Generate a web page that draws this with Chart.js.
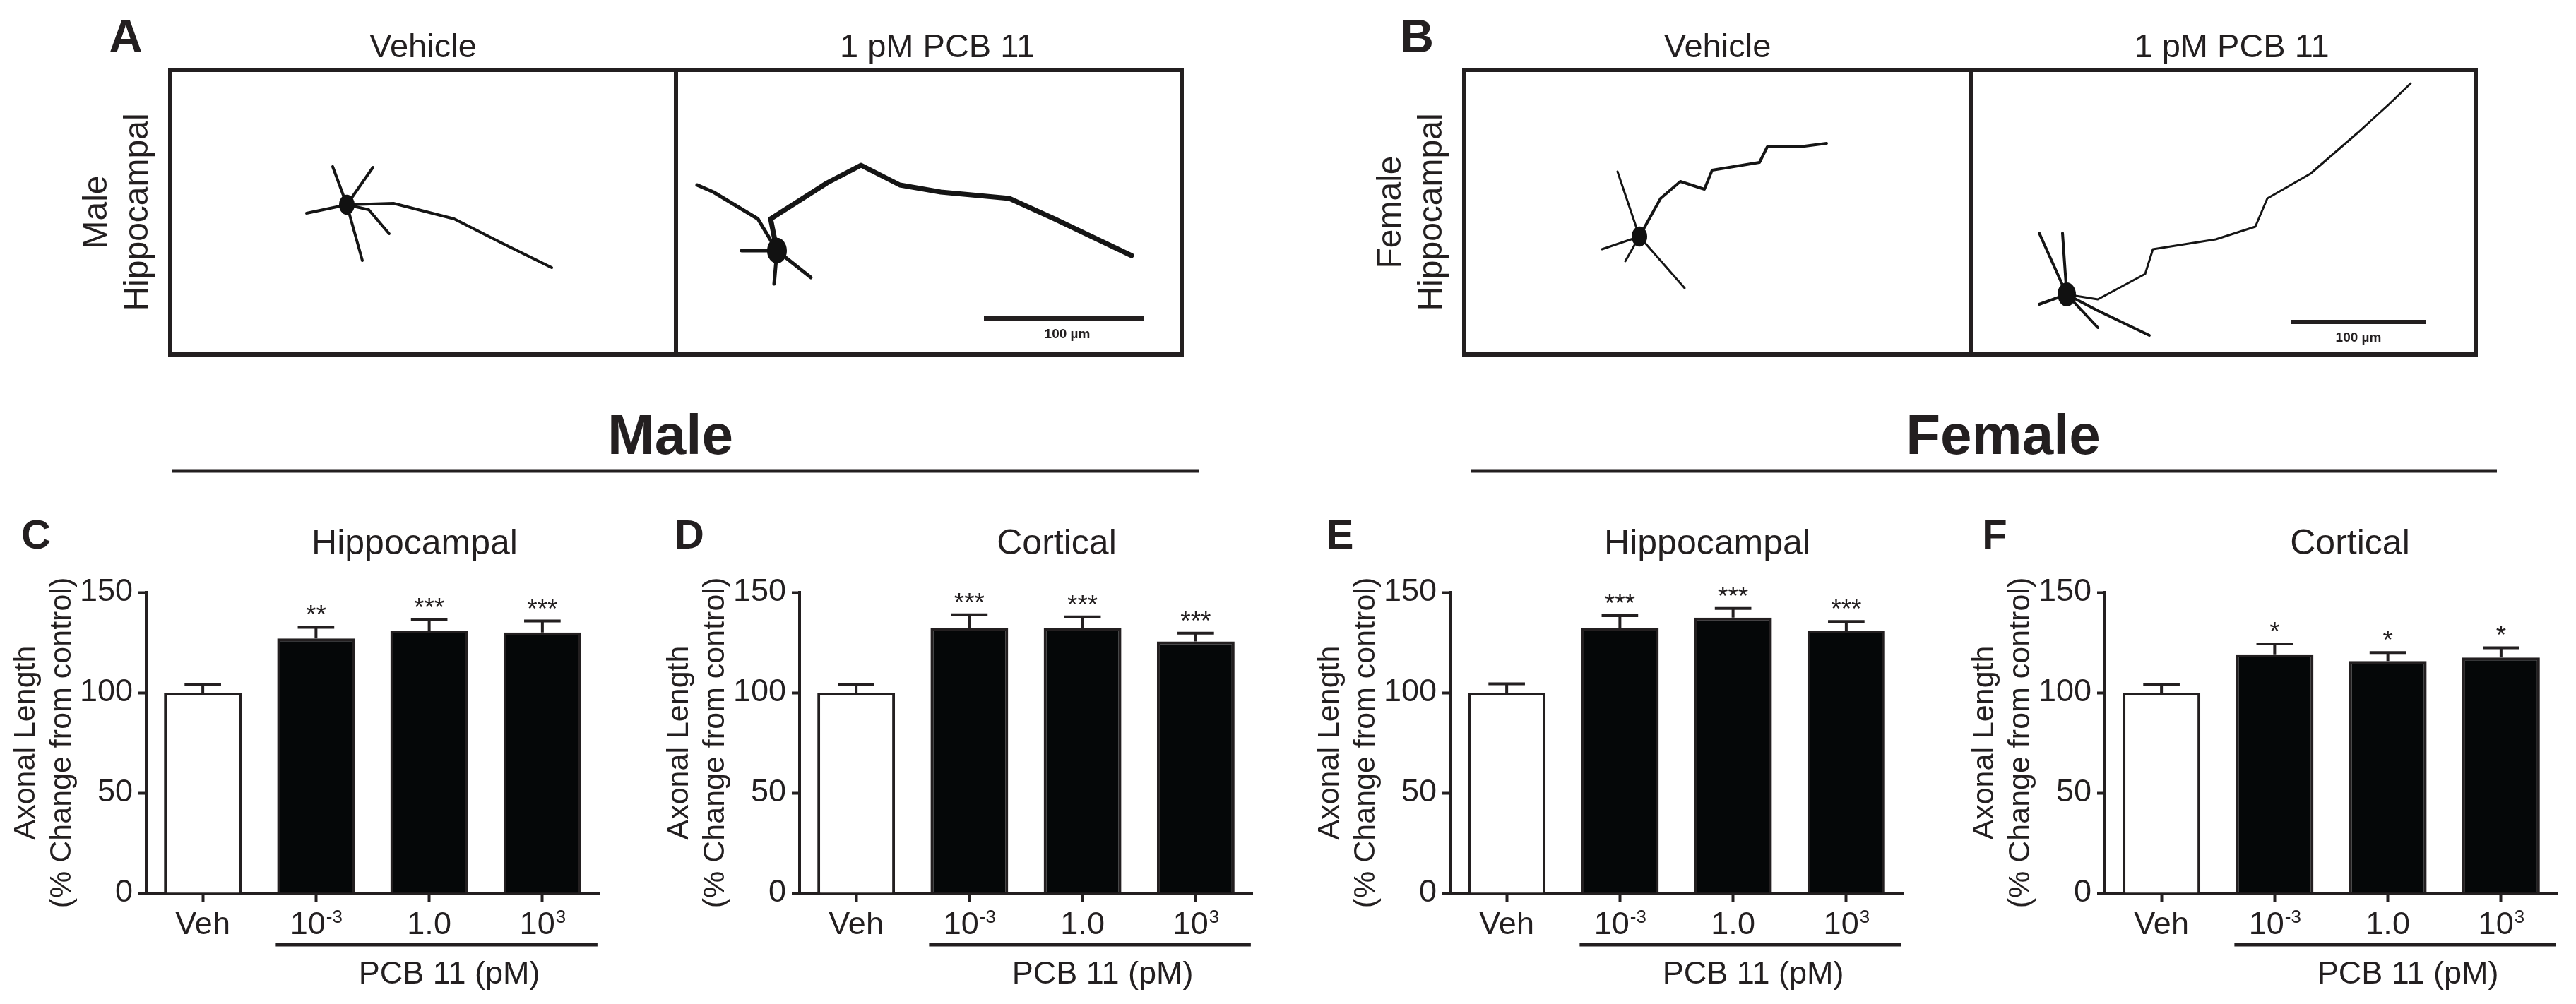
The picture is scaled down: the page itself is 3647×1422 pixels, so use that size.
<!DOCTYPE html>
<html>
<head>
<meta charset="utf-8">
<title>PCB 11 axonal length</title>
<script src="https://cdn.jsdelivr.net/npm/chart.js@4.4.0/dist/chart.umd.min.js"></script>
<style>
    html, body { margin: 0; padding: 0; background: #fff; }
    #stage { position: relative; width: 3647px; height: 1422px; overflow: hidden; }
    #stage canvas { position: absolute; }
</style>
</head>
<body>
<div id="stage">
    <canvas id="figure" width="3647" height="1422" style="left:0;top:0"></canvas>
    <canvas id="chartC"></canvas>
    <canvas id="chartD"></canvas>
    <canvas id="chartE"></canvas>
    <canvas id="chartF"></canvas>
</div>
<script>
// ===== Data =====
const CATEGORIES = ['Veh', '10^-3', '1.0', '10^3'];
const Y_TICKS = [0, 50, 100, 150];

const maleHippoMean = [100, 127, 131, 130];
const maleHippoSem = [4, 5.6, 5.3, 5.7];
const maleHippoSig = ['', '**', '***', '***'];

const maleCortMean = [100, 132.4, 132.4, 125.5];
const maleCortSem = [4, 6.4, 5.4, 4.2];
const maleCortSig = ['', '***', '***', '***'];

const femHippoMean = [100, 132.4, 137.4, 131];
const femHippoSem = [4.4, 6, 4.6, 4.5];
const femHippoSig = ['', '***', '***', '***'];

const femCortMean = [100, 119.1, 115.8, 117.5];
const femCortSem = [4, 5.2, 4.2, 4.9];
const femCortSig = ['', '*', '*', '*'];

(function () {
    const INK = '#231f20';
    const BAR = '#050708';
    const FONT = '"Liberation Sans", Arial, Helvetica, sans-serif';

    // ===== Layout (pixels in the page) =====
    const CANVAS_TOP = 700;
    const PLOT_TOP = 839;      // y = 150
    const PLOT_BOTTOM = 1265;  // y = 0
    const Y_AXIS_W = 207;
    const PLOT_W = 641;
    const PAD_RIGHT = 10;

    const PANELS = [
        { id: 'chartC', letter: 'C', title: 'Hippocampal', axisX: 207, titleDx: 380, mean: maleHippoMean, sem: maleHippoSem, sig: maleHippoSig },
        { id: 'chartD', letter: 'D', title: 'Cortical', axisX: 1132, titleDx: 364, mean: maleCortMean, sem: maleCortSem, sig: maleCortSig },
        { id: 'chartE', letter: 'E', title: 'Hippocampal', axisX: 2053, titleDx: 364, mean: femHippoMean, sem: femHippoSem, sig: femHippoSig },
        { id: 'chartF', letter: 'F', title: 'Cortical', axisX: 2980, titleDx: 347, mean: femCortMean, sem: femCortSem, sig: femCortSig }
    ];

    // ===== Top row: micrograph frames (sketched) =====
    const fig = document.getElementById('figure');
    const g = fig.getContext('2d');

    const IMAGE_PANELS = [
        { letter: 'A', letterX: 178, side: ['Male', 'Hippocampal'], sideX: 138, left: 241, right: 1673, divider: 957, bar: [1393, 1619, 451], barText: [1511, 479] },
        { letter: 'B', letterX: 2006, side: ['Female', 'Hippocampal'], sideX: 1970, left: 2073, right: 3505, divider: 2790, bar: [3243, 3435, 456], barText: [3339, 484] }
    ];
    const BOX_TOP = 99, BOX_BOTTOM = 502;

    // rough neuron tracings (soma, dendrites, axon) just to fill the frames
    const NEURONS = [
        { soma: [491, 290, 11], w: 4, dend: [[[491, 290], [471, 236]], [[491, 290], [528, 237]], [[491, 290], [434, 302]], [[491, 290], [513, 369]], [[491, 290], [522, 297], [551, 331]]],
          axon: [[491, 290], [557, 288], [643, 310], [712, 345], [781, 379]], aw: 4 },
        { soma: [1100, 355, 14], w: 5, dend: [[[1100, 355], [1073, 310], [1010, 272], [987, 262]], [[1100, 355], [1096, 402]], [[1100, 355], [1148, 393]], [[1100, 355], [1050, 355]]],
          axon: [[1100, 355], [1091, 310], [1171, 259], [1219, 234], [1274, 262], [1332, 272], [1429, 281], [1493, 310], [1602, 362]], aw: 7 },
        { soma: [2321, 335, 11], w: 3, dend: [[[2321, 335], [2290, 243]], [[2321, 335], [2385, 408]], [[2321, 335], [2268, 353]], [[2321, 335], [2301, 370]]],
          axon: [[2321, 335], [2351, 281], [2379, 257], [2413, 268], [2424, 241], [2491, 230], [2502, 208], [2547, 208], [2586, 203]], aw: 4 },
        { soma: [2926, 417, 13], w: 4, dend: [[[2926, 417], [2920, 330]], [[2926, 417], [2887, 330]], [[2926, 417], [2887, 431]], [[2926, 417], [2970, 440], [3043, 475]], [[2926, 417], [2970, 464]]],
          axon: [[2926, 417], [2970, 424], [3037, 388], [3048, 353], [3137, 339], [3193, 321], [3210, 281], [3271, 246], [3338, 188], [3383, 147], [3413, 118]], aw: 3 }
    ];

    function polyline(pts) {
        g.beginPath();
        pts.forEach(([x, y], i) => i ? g.lineTo(x, y) : g.moveTo(x, y));
        g.stroke();
    }

    function drawTop() {
        g.fillStyle = '#fff';
        g.fillRect(0, 0, fig.width, fig.height);
        g.fillStyle = INK;
        g.strokeStyle = INK;

        IMAGE_PANELS.forEach(p => {
            // panel letter
            g.font = `bold 66px ${FONT}`;
            g.textAlign = 'center';
            g.textBaseline = 'alphabetic';
            g.fillText(p.letter, p.letterX, 74);

            // column headers
            g.font = `47px ${FONT}`;
            g.fillText('Vehicle', (p.left + p.divider) / 2, 81);
            g.fillText('1 pM PCB 11', (p.divider + p.right) / 2 + 12, 81);

            // frame + divider
            g.lineWidth = 6;
            g.strokeRect(p.left, BOX_TOP, p.right - p.left, BOX_BOTTOM - BOX_TOP);
            polyline([[p.divider, BOX_TOP], [p.divider, BOX_BOTTOM]]);

            // rotated row label
            g.save();
            g.translate(p.sideX, (BOX_TOP + BOX_BOTTOM) / 2);
            g.rotate(-Math.PI / 2);
            g.font = `48px ${FONT}`;
            g.textBaseline = 'middle';
            g.fillText(p.side[0], 0, 0);
            g.fillText(p.side[1], 0, 58);
            g.restore();

            // scale bar
            g.lineWidth = 6;
            polyline([[p.bar[0], p.bar[2]], [p.bar[1], p.bar[2]]]);
            g.font = `bold 19px ${FONT}`;
            g.textBaseline = 'alphabetic';
            g.fillText('100 µm', p.barText[0], p.barText[1]);
        });

        // neurons
        g.lineCap = 'round';
        g.lineJoin = 'round';
        g.strokeStyle = '#151515';
        g.fillStyle = '#111';
        NEURONS.forEach(n => {
            g.lineWidth = n.w;
            n.dend.forEach(polyline);
            g.lineWidth = n.aw;
            polyline(n.axon);
            g.beginPath();
            g.ellipse(n.soma[0], n.soma[1], n.soma[2], n.soma[2] * 1.3, 0, 0, Math.PI * 2);
            g.fill();
        });
        g.lineCap = 'butt';

        // Male / Female headers
        g.fillStyle = INK;
        g.strokeStyle = INK;
        g.font = `bold 80px ${FONT}`;
        g.textAlign = 'center';
        g.fillText('Male', 949, 643);
        g.fillText('Female', 2836, 643);
        g.lineWidth = 5;
        polyline([[244, 667], [1697, 667]]);
        polyline([[2083, 667], [3535, 667]]);
    }

    drawTop();

    // ===== Charts =====
    function makeDecor(panel) {
        return {
            id: 'panelDecor',
            afterDatasetsDraw(chart) {
                const ctx = chart.ctx;
                const area = chart.chartArea;
                const xs = chart.scales.x;
                const ys = chart.scales.y;
                const meta = chart.getDatasetMeta(0);

                ctx.save();
                ctx.strokeStyle = INK;
                ctx.fillStyle = INK;
                ctx.lineWidth = 4;

                // error bars (upper half only) and significance stars
                meta.data.forEach((bar, i) => {
                    const base = ys.getPixelForValue(panel.mean[i]);
                    const top = ys.getPixelForValue(panel.mean[i] + panel.sem[i]);
                    const half = bar.width * 0.235;
                    ctx.beginPath();
                    ctx.moveTo(bar.x, base);
                    ctx.lineTo(bar.x, top);
                    ctx.moveTo(bar.x - half, top);
                    ctx.lineTo(bar.x + half, top);
                    ctx.stroke();
                    if (panel.sig[i]) {
                        ctx.font = `37px ${FONT}`;
                        ctx.textAlign = 'center';
                        ctx.textBaseline = 'alphabetic';
                        ctx.fillText(panel.sig[i], bar.x, top - 5);
                    }
                });

                // panel letter + title
                ctx.textAlign = 'center';
                ctx.textBaseline = 'alphabetic';
                ctx.font = `bold 58px ${FONT}`;
                ctx.fillText(panel.letter, area.left - 156, area.top - 62);
                ctx.font = `50px ${FONT}`;
                ctx.fillText(panel.title, area.left + panel.titleDx, area.top - 54);

                // category labels (with superscripts)
                CATEGORIES.forEach((lab, i) => {
                    const [base, sup] = lab.split('^');
                    const cx = xs.getPixelForValue(i);
                    const y = area.bottom + 58;
                    ctx.font = `45px ${FONT}`;
                    const w1 = ctx.measureText(base).width;
                    ctx.font = `26px ${FONT}`;
                    const w2 = sup ? ctx.measureText(sup).width : 0;
                    const x0 = cx - (w1 + w2) / 2;
                    ctx.textAlign = 'left';
                    ctx.font = `45px ${FONT}`;
                    ctx.fillText(base, x0, y);
                    if (sup) {
                        ctx.font = `26px ${FONT}`;
                        ctx.fillText(sup, x0 + w1 + 1, y - 16);
                    }
                });

                // treatment bracket
                const bx1 = xs.getPixelForValue(1) - 57;
                const bx2 = xs.getPixelForValue(3) + 78;
                const by = area.bottom + 73;
                ctx.lineWidth = 5;
                ctx.beginPath();
                ctx.moveTo(bx1, by);
                ctx.lineTo(bx2, by);
                ctx.stroke();
                ctx.textAlign = 'center';
                ctx.font = `45px ${FONT}`;
                ctx.fillText('PCB 11 (pM)', (bx1 + bx2) / 2 + 18, area.bottom + 128);

                ctx.restore();
            }
        };
    }

    PANELS.forEach(panel => {
        const cv = document.getElementById(panel.id);
        const w = Y_AXIS_W + PLOT_W + PAD_RIGHT;
        const h = 1422 - CANVAS_TOP;
        cv.width = w;
        cv.height = h;
        cv.style.left = (panel.axisX - Y_AXIS_W) + 'px';
        cv.style.top = CANVAS_TOP + 'px';
        cv.style.width = w + 'px';
        cv.style.height = h + 'px';

        new Chart(cv, {
            type: 'bar',
            data: {
                labels: CATEGORIES,
                datasets: [{
                    data: panel.mean,
                    backgroundColor: panel.mean.map((_, i) => i === 0 ? '#ffffff' : BAR),
                    borderColor: INK,
                    borderWidth: 4,
                    barPercentage: 0.686,
                    categoryPercentage: 1
                }]
            },
            options: {
                responsive: false,
                animation: false,
                devicePixelRatio: 1,
                layout: { padding: { top: PLOT_TOP - CANVAS_TOP, right: PAD_RIGHT, bottom: 0, left: 0 } },
                plugins: { legend: { display: false }, tooltip: { enabled: false }, title: { display: false } },
                scales: {
                    x: {
                        offset: true,
                        grid: { offset: false, drawOnChartArea: false, tickLength: 12, tickWidth: 4, tickColor: INK },
                        border: { display: true, width: 4, color: INK },
                        ticks: { callback: () => '' },
                        afterFit: s => { s.height = 1422 - PLOT_BOTTOM; }
                    },
                    y: {
                        min: Y_TICKS[0],
                        max: Y_TICKS[Y_TICKS.length - 1],
                        afterBuildTicks: s => { s.ticks = Y_TICKS.map(v => ({ value: v })); },
                        grid: { drawOnChartArea: false, tickLength: 11, tickWidth: 4, tickColor: INK },
                        border: { display: true, width: 4, color: INK },
                        ticks: { color: INK, padding: 8, font: { family: FONT, size: 45 } },
                        title: {
                            display: true,
                            text: ['Axonal Length', '(% Change from control)'],
                            color: INK,
                            font: { family: FONT, size: 43, lineHeight: 1.2 },
                            padding: { top: 11, bottom: 0 }
                        },
                        afterFit: s => { s.width = Y_AXIS_W; }
                    }
                }
            },
            plugins: [makeDecor(panel)]
        });
    });
})();
</script>
</body>
</html>
